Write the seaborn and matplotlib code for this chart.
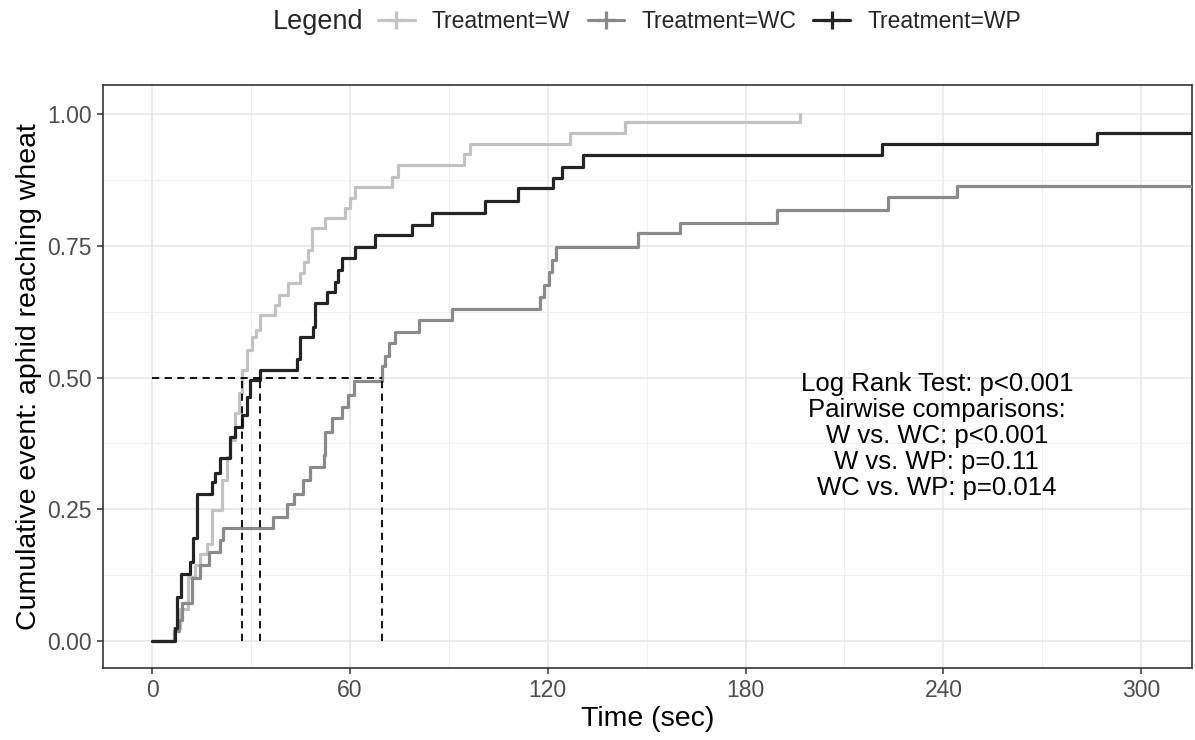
import numpy as np
import pandas as pd
import matplotlib
matplotlib.use("Agg")
import matplotlib.pyplot as plt
import seaborn as sns
from matplotlib.lines import Line2D
from matplotlib.ticker import MultipleLocator, FormatStrFormatter

# ---------------- data ----------------
treatments = ["Treatment=W", "Treatment=WC", "Treatment=WP"]
colors = ["#c2c2c2", "#8a8a8a", "#242424"]

w_time = [0, 6.6, 8.5, 11.0, 13.0, 14.6, 16.5, 18.1, 21.1, 22.7, 23.7, 25.2, 26.2,
          27.2, 28.7, 30.2, 31.5, 32.8, 37.3, 38.5, 41.3, 44.9, 46.0, 47.3, 48.5,
          52.5, 58.5, 60.0, 61.5, 72.7, 74.5, 94.6, 96.5, 126.8, 143.5, 196.5]
w_cum = [0.0, 0.024, 0.060, 0.122, 0.144, 0.166, 0.185, 0.249, 0.305, 0.350, 0.381,
         0.432, 0.470, 0.514, 0.552, 0.577, 0.590, 0.619, 0.638, 0.657, 0.679,
         0.698, 0.720, 0.742, 0.783, 0.802, 0.821, 0.840, 0.861, 0.881, 0.903,
         0.925, 0.944, 0.963, 0.985, 1.0]

wc_time = [0, 6.5, 8.0, 9.0, 12.0, 14.6, 17.1, 20.6, 21.6, 36.8, 40.8, 42.9, 45.9,
           47.9, 52.0, 52.5, 54.5, 57.5, 59.5, 61.1, 69.7, 70.7, 71.7, 73.7, 80.8,
           90.9, 117.7, 119.0, 120.3, 121.3, 122.5, 147.5, 160.2, 189.5, 223.3,
           244.1, 330.0]
wc_cum = [0.0, 0.020, 0.040, 0.072, 0.119, 0.144, 0.169, 0.192, 0.214, 0.236, 0.261,
          0.280, 0.305, 0.331, 0.353, 0.397, 0.423, 0.445, 0.467, 0.493, 0.522,
          0.541, 0.565, 0.587, 0.609, 0.631, 0.653, 0.676, 0.701, 0.723, 0.748,
          0.774, 0.793, 0.818, 0.843, 0.863, 0.863]

wp_time = [0, 6.8, 7.5, 8.7, 11.5, 12.5, 13.5, 18.1, 19.1, 20.6, 23.7, 25.2, 27.2,
           28.7, 29.7, 32.8, 43.9, 44.9, 48.9, 49.5, 53.0, 55.5, 56.3, 57.5, 61.6,
           67.6, 78.8, 85.0, 101.0, 111.1, 121.7, 124.3, 130.8, 221.3, 286.5, 330.0]
wp_cum = [0.0, 0.024, 0.084, 0.128, 0.150, 0.195, 0.280, 0.302, 0.318, 0.347, 0.388,
          0.407, 0.429, 0.464, 0.495, 0.514, 0.536, 0.577, 0.596, 0.641, 0.663,
          0.682, 0.704, 0.726, 0.748, 0.770, 0.789, 0.812, 0.834, 0.859, 0.878,
          0.900, 0.922, 0.944, 0.963, 0.963]

x_ticks = [0, 60, 120, 180, 240, 300]
y_ticks = [0.00, 0.25, 0.50, 0.75, 1.00]

annotation = ("Log Rank Test: p<0.001\nPairwise comparisons:\nW vs. WC: p<0.001\n"
              "W vs. WP: p=0.11\nWC vs. WP: p=0.014")

# ---------------- frame ----------------
series = {treatments[0]: (w_time, w_cum),
          treatments[1]: (wc_time, wc_cum),
          treatments[2]: (wp_time, wp_cum)}
df = pd.concat([pd.DataFrame({"time": t, "cum": c, "Treatment": k})
                for k, (t, c) in series.items()], ignore_index=True)

sns.set_theme(style="whitegrid")
plt.rcParams["font.family"] = ["Liberation Sans", "DejaVu Sans"]

W, H = 1195, 740
fig = plt.figure(figsize=(W / 100, H / 100), dpi=100)
ax = fig.add_axes([103 / W, 1 - 668 / H, (1192 - 103) / W, (668 - 85) / H])
ax.set_facecolor("white")

palette = dict(zip(treatments, colors))
sns.lineplot(data=df, x="time", y="cum", hue="Treatment", palette=palette,
             drawstyle="steps-post", estimator=None, sort=False,
             linewidth=2.3, ax=ax, legend=False, zorder=3)

# median lines
medians = []
for k, (t, c) in series.items():
    c = np.asarray(c)
    idx = np.argmax(c >= 0.5)
    medians.append(t[idx])
ax.hlines(0.5, 0, max(medians), colors="black", linestyles=(0, (4, 3)),
          linewidth=1.3, zorder=4)
ax.vlines(medians, 0, 0.5, colors="black", linestyles=(0, (4, 3)),
          linewidth=1.3, zorder=4)

ax.set_xlim(-14.9, 315.4)
ax.set_ylim(-0.051, 1.055)
ax.set_xticks(x_ticks)
ax.set_yticks(y_ticks)
ax.xaxis.set_minor_locator(MultipleLocator(30))
ax.yaxis.set_minor_locator(MultipleLocator(0.125))
ax.yaxis.set_major_formatter(FormatStrFormatter("%.2f"))
ax.grid(which="major", color="#e6e6e6", linewidth=1.1)
ax.grid(which="minor", color="#f0f0f0", linewidth=0.7)
ax.set_axisbelow(True)
for s in ax.spines.values():
    s.set_visible(True)
    s.set_color("#333333")
    s.set_linewidth(1.2)
ax.tick_params(which="major", length=4, width=1.1, color="#333333",
               labelcolor="#4d4d4d", labelsize=16.5, pad=4,
               bottom=True, left=True)
ax.tick_params(which="minor", length=0)

ax.set_xlabel("Time (sec)", fontsize=20.5, color="black", labelpad=3)
ax.set_ylabel("Cumulative event: aphid reaching wheat", fontsize=20.5,
              color="black", labelpad=4)

ax.text(238, 0.389, annotation, ha="center", va="center", fontsize=18.5,
        linespacing=1.1, color="black", multialignment="center")

# legend
fig.text(273 / W, 1 - 22 / H, "Legend", fontsize=19.5, va="center", ha="left")
handles = [Line2D([0], [0], color=c, lw=2.3, marker="+", markersize=13,
                  markeredgewidth=2.3) for c in colors]
fig.legend(handles, treatments, loc="center left",
           bbox_to_anchor=(378 / W, 1 - 22 / H), ncol=3, frameon=False,
           fontsize=16.5, handlelength=1.6, handletextpad=0.75,
           columnspacing=0.75, borderpad=0, borderaxespad=0, numpoints=1)

fig.savefig("out.png", dpi=100)
